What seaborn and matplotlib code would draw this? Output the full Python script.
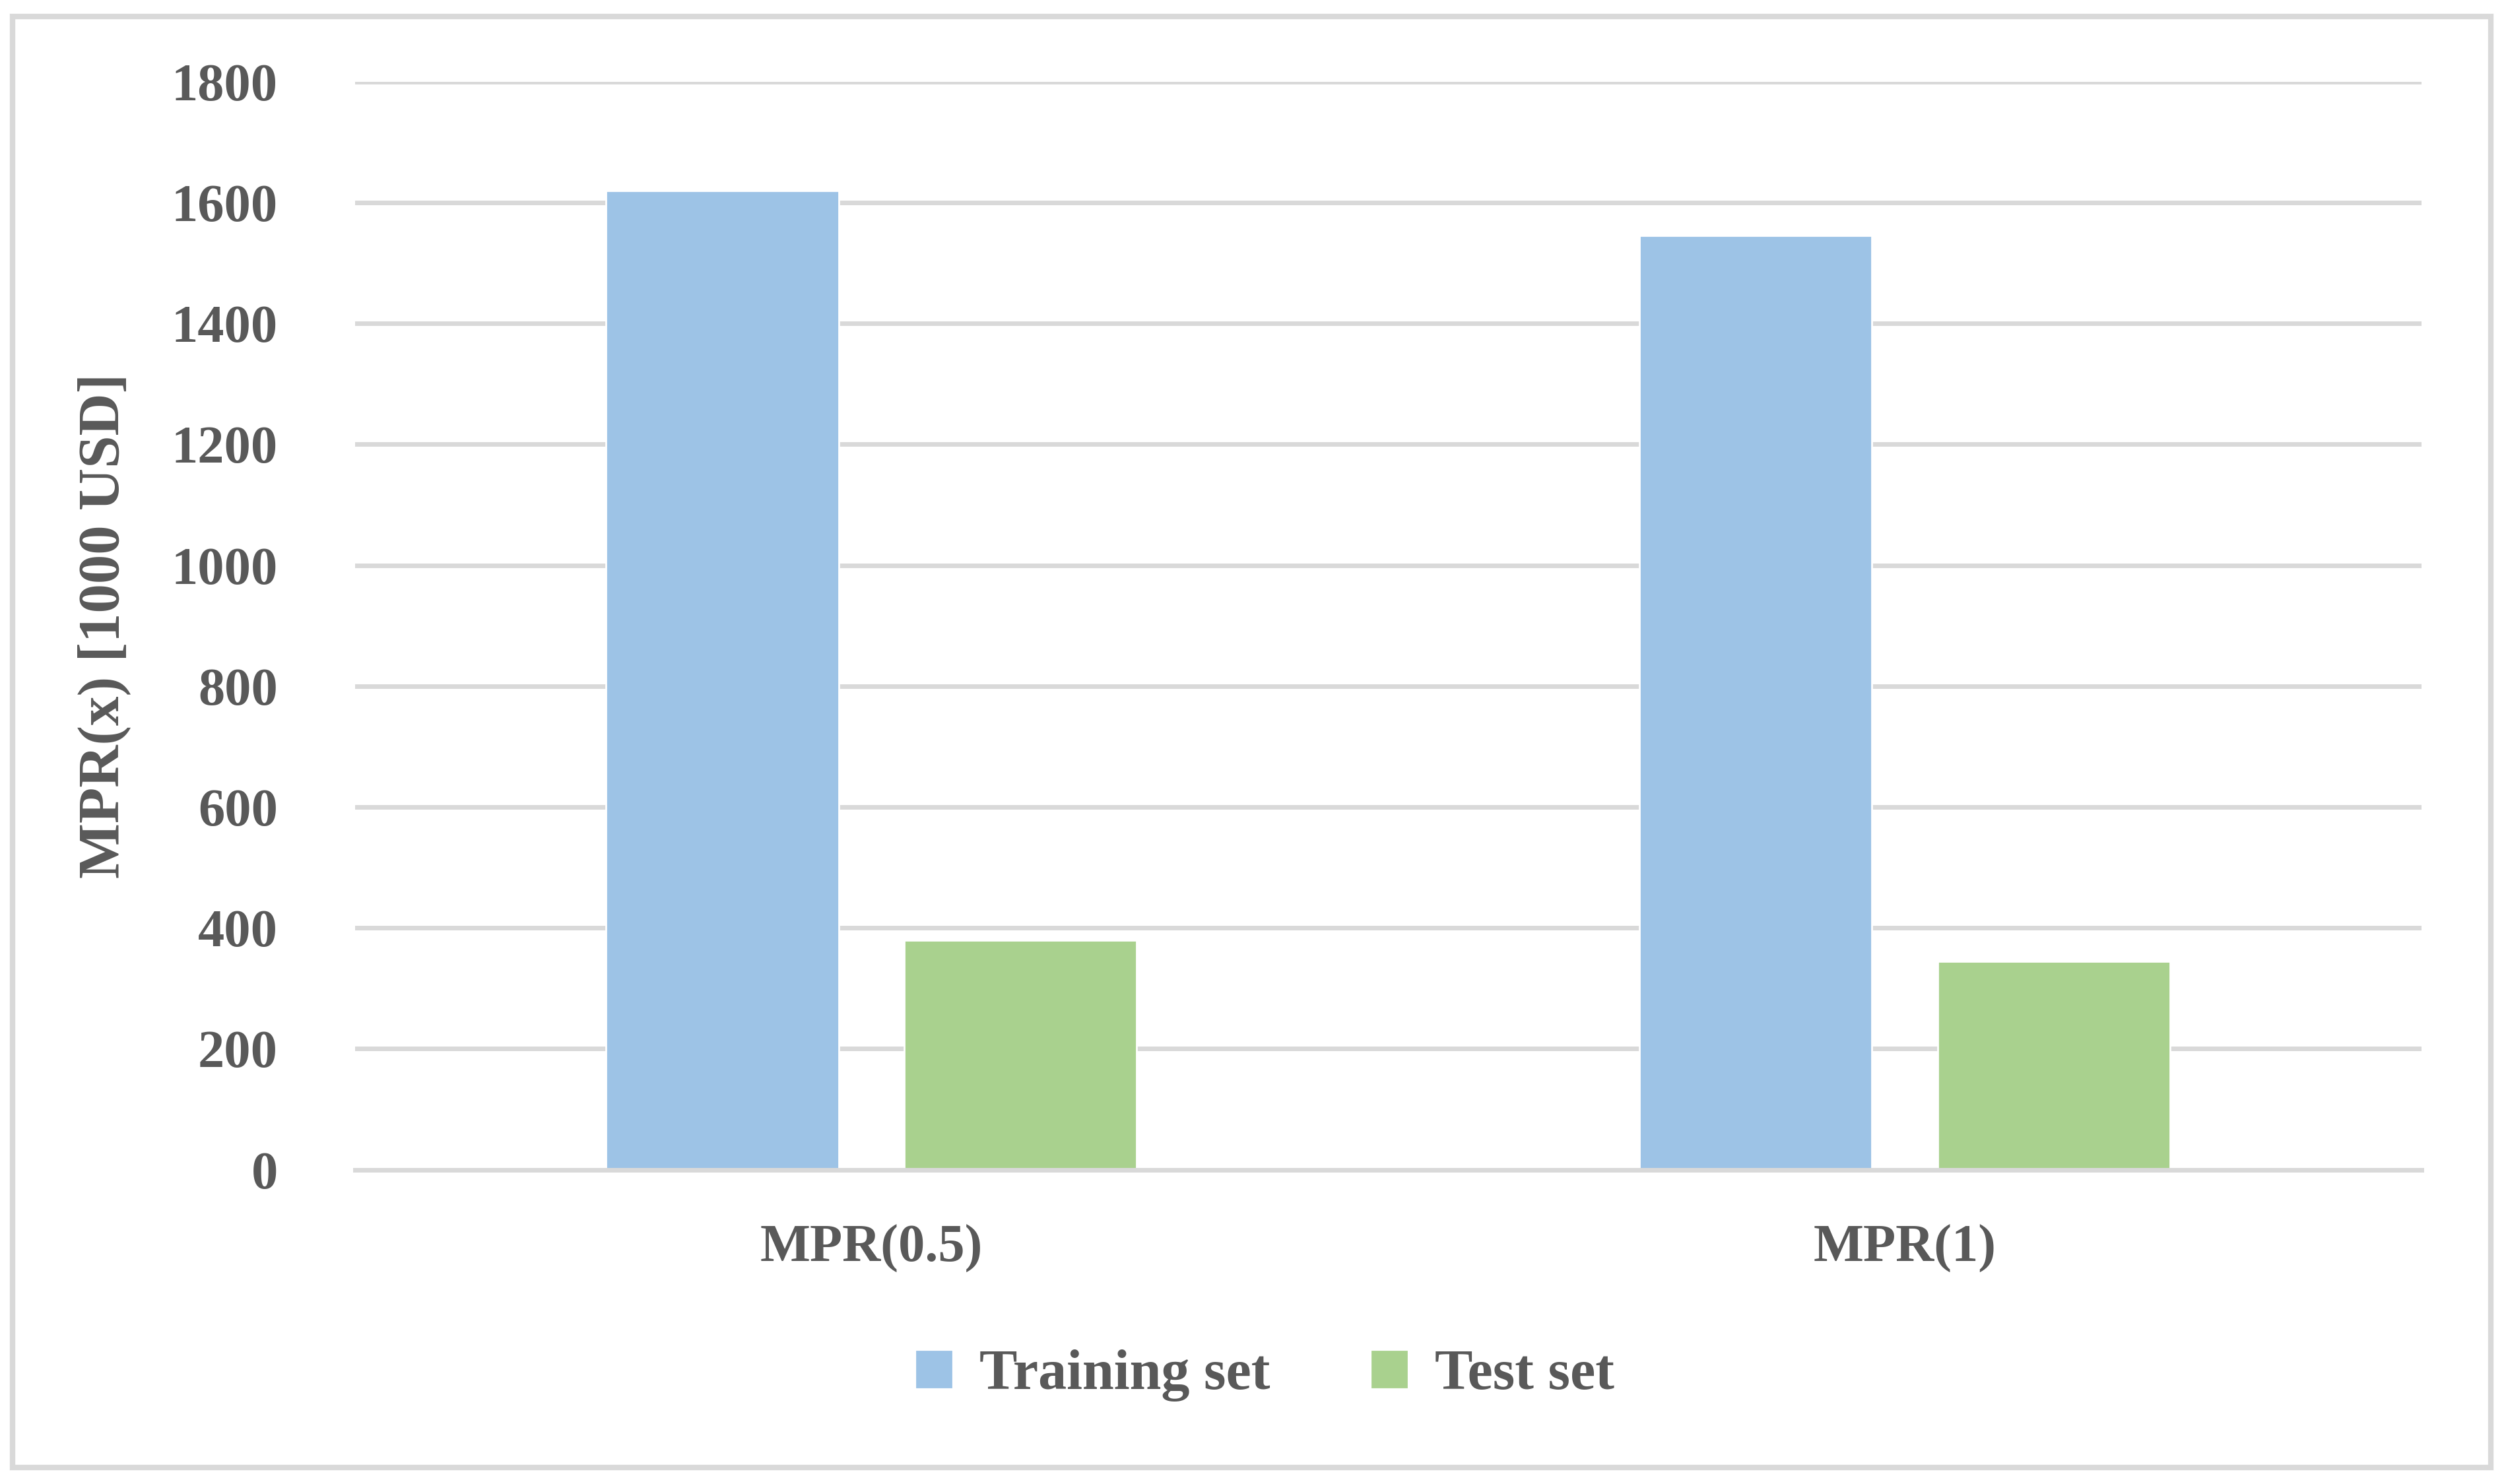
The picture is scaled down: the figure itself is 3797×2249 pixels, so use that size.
import matplotlib
matplotlib.use("Agg")
import matplotlib.pyplot as plt
import seaborn as sns
import pandas as pd
from matplotlib.patches import Rectangle

categories = ["MPR(0.5)", "MPR(1)"]
series = ["Training set", "Test set"]
training = [1620, 1545]
test = [380, 345]

df = pd.DataFrame({
    "cat": categories * 2,
    "series": [series[0]] * 2 + [series[1]] * 2,
    "value": training + test,
})

sns.set_theme(style="white")
plt.rcParams["font.family"] = ["Liberation Serif", "DejaVu Serif"]
plt.rcParams["font.weight"] = "bold"

fig = plt.figure(figsize=(3797 / 200, 2249 / 200), dpi=200)
ax = fig.add_axes([0.1416, 0.2118, 0.8246, 0.7332])
sns.barplot(data=df, x="cat", y="value", hue="series", ax=ax,
            palette=["#9DC3E6", "#A9D18E"], width=0.577, gap=0.22,
            saturation=1, legend=True)
ax.set_ylim(0, 1800)
ax.set_xlim(-0.5, 1.5)
ax.set_yticks(range(0, 1801, 200))
ax.yaxis.grid(True, color="#D9D9D9", linewidth=2.5)
ax.set_axisbelow(True)
for s in ["top", "right", "left"]:
    ax.spines[s].set_visible(False)
ax.spines["bottom"].set_color("#D9D9D9")
ax.spines["bottom"].set_linewidth(2.5)
ax.tick_params(axis="y", length=0, labelsize=29, labelcolor="#595959", pad=42)
ax.tick_params(axis="x", length=0, labelsize=29, labelcolor="#595959", pad=30)
for t in ax.get_xticklabels() + ax.get_yticklabels():
    t.set_fontweight("bold")
ax.set_xlabel("")
ax.set_ylabel("MPR(x) [1000 USD]", fontsize=32, fontweight="bold", color="#595959", labelpad=22)
ax.get_legend().remove()
handles = [Rectangle((0, 0), 1, 1, color=c) for c in ["#9DC3E6", "#A9D18E"]]
fig.legend(handles, series, loc="center", bbox_to_anchor=(0.505, 0.073), ncol=2,
           frameon=False, prop={"size": 31, "weight": "bold"}, labelcolor="#595959",
           handlelength=0.6, handleheight=0.6, columnspacing=1.8, handletextpad=0.5)
fig.patches.append(Rectangle((0.005, 0.011), 0.989, 0.978, transform=fig.transFigure,
                             fill=False, edgecolor="#D9D9D9", linewidth=3))
fig.savefig("out.png", dpi=200)
